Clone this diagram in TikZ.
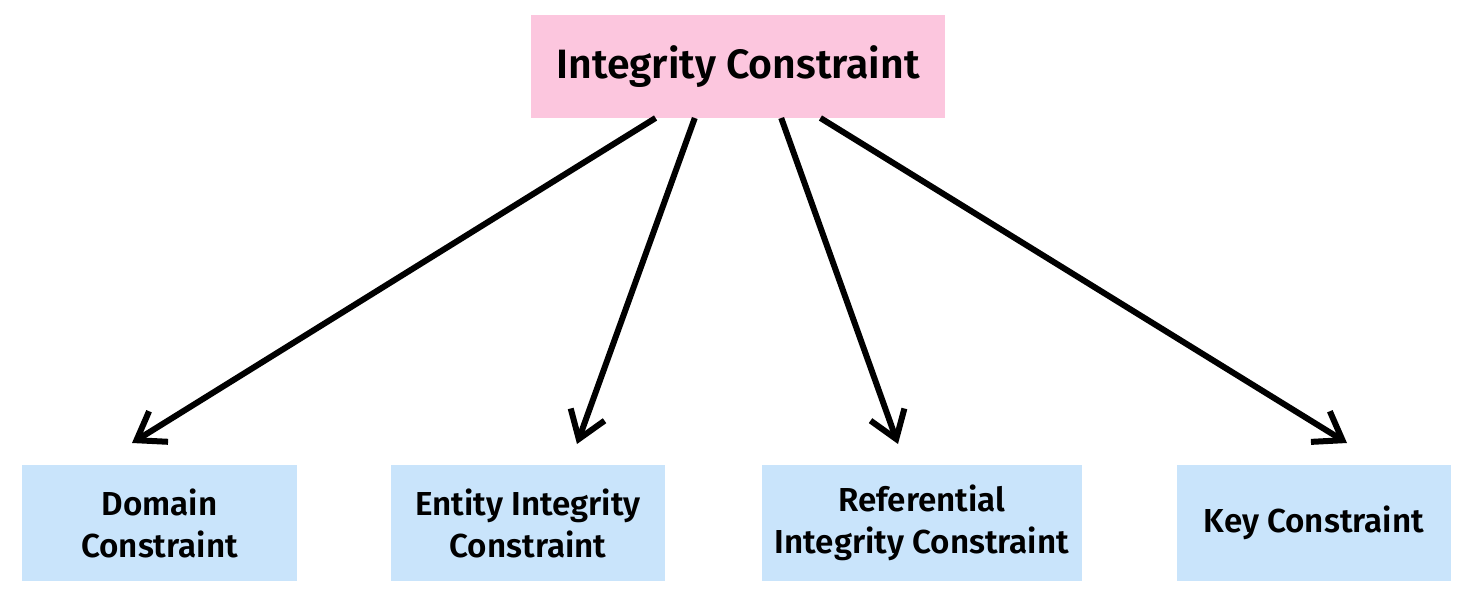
\documentclass[tikz,border=0pt]{standalone}
\usepackage{fontspec}
\setmainfont{Fira Sans}[BoldFont={Fira Sans SemiBold}]
\usetikzlibrary{arrows.meta}
\definecolor{rootpink}{RGB}{252,198,222}
\definecolor{leafblue}{RGB}{201,228,251}
\begin{document}
\begin{tikzpicture}[x=0.5pt, y=-0.5pt,
		rootbox/.style={fill=rootpink, outer sep=0pt, minimum width=207pt, minimum height=51.5pt, font=\fontsize{20.5}{24}\selectfont\bfseries},
		leafbox/.style={fill=leafblue, outer sep=0pt, minimum height=58pt, align=center, font=\fontsize{16.6}{21}\selectfont\bfseries},
		link/.style={line width=3pt, -{Straight Barb[length=13pt, width=18pt, sharp]}}]
	\useasboundingbox (0, 0) rectangle (1474, 605);
	\node[rootbox] (ic) at (738, 66.5) {Integrity Constraint};
	\node[leafbox, minimum width=137.5pt] (dom) at (159.5, 523) {Domain\\Constraint};
	\node[leafbox, minimum width=137pt] (ent) at (528, 523) {Entity Integrity\\Constraint};
	\node[leafbox, minimum width=160pt] (ref) at (922, 523) {Referential\\Integrity Constraint};
	\node[leafbox, minimum width=137pt] (key) at (1314, 523) {Key Constraint};
	\coordinate (domtip) at (132, 443);
	\coordinate (enttip) at (577, 444);
	\coordinate (reftip) at (898, 444);
	\coordinate (keytip) at (1347, 443);
	\foreach \a/\t in {212/domtip, 230/enttip, 310/reftip, 328/keytip}
		\draw[link] (ic.\a) -- (\t);
\end{tikzpicture}
\end{document}
